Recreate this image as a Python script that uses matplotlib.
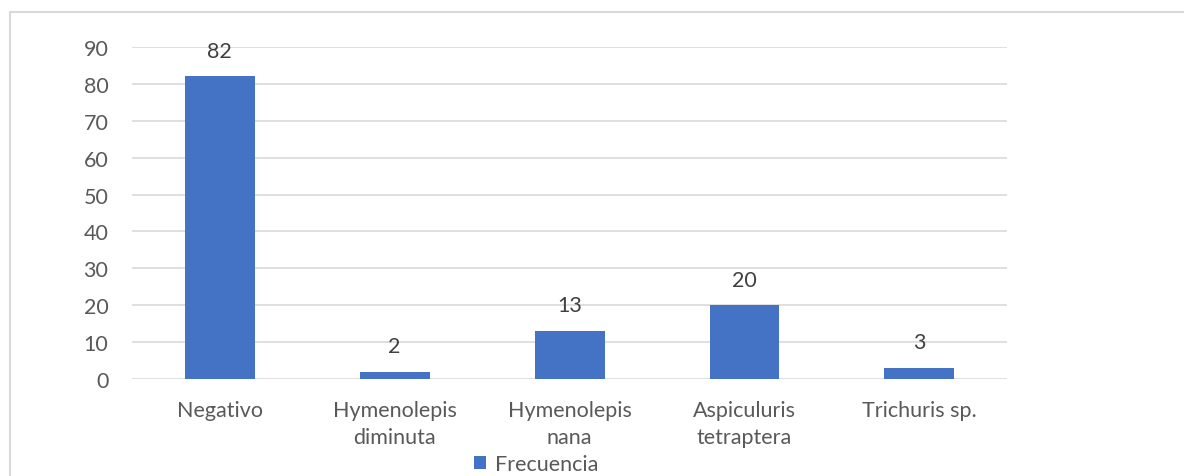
import matplotlib
matplotlib.use('Agg')
import matplotlib.pyplot as plt
from matplotlib.patches import Rectangle
import numpy as np

plt.rcParams.update({'font.family': ['Lato', 'DejaVu Sans']})

# datos
categorias = ['Negativo', 'Hymenolepis\ndiminuta', 'Hymenolepis\nnana',
              'Aspiculuris\ntetraptera', 'Trichuris sp.']
frecuencia = [82, 2, 13, 20, 3]
yticks = [0, 10, 20, 30, 40, 50, 60, 70, 80, 90]

azul = '#4472c4'
gris_txt = '#595959'
gris_lin = '#d9d9d9'
fs = 15.5

fig = plt.figure(figsize=(11.84, 4.77), dpi=100)
ax = fig.add_axes([0.1115, 0.2034, 0.8505 - 0.1115, 0.8994 - 0.2034])

x = np.arange(len(categorias))
bars = ax.bar(x, frecuencia, width=0.4, color=azul, zorder=3, label='Frecuencia')

for b, v in zip(bars, frecuencia):
    ax.annotate(str(v), (b.get_x() + b.get_width() / 2, v), xytext=(0, 18.5),
                textcoords='offset points', ha='center', va='center',
                fontsize=fs, color='#404040')

ax.set_xlim(-0.5, len(categorias) - 0.5)
ax.set_ylim(0, 90)
ax.set_yticks(yticks)
ax.set_xticks(x)
ax.set_xticklabels(categorias, linespacing=1.45)
ax.yaxis.grid(True, color=gris_lin, lw=1.2, zorder=0)
ax.set_axisbelow(True)
for s in ax.spines.values():
    s.set_visible(False)
ax.tick_params(axis='both', length=0, labelsize=fs, labelcolor=gris_txt)
ax.tick_params(axis='y', pad=17)
ax.tick_params(axis='x', pad=15)

ax.legend(loc='center', bbox_to_anchor=(536 / 1184, 1 - 465 / 477),
          bbox_transform=fig.transFigure, frameon=False,
          fontsize=fs, labelcolor=gris_txt, handlelength=0.6, handleheight=0.6,
          handletextpad=0.4, borderaxespad=0, borderpad=0)

# borde del area del grafico
fig.patches.append(Rectangle((9.5 / 1184, -0.1), 1.2, 1 - 13 / 477 + 0.1,
                             transform=fig.transFigure, fill=False,
                             edgecolor=gris_lin, lw=1.5))

fig.savefig('out.png', dpi=100)
